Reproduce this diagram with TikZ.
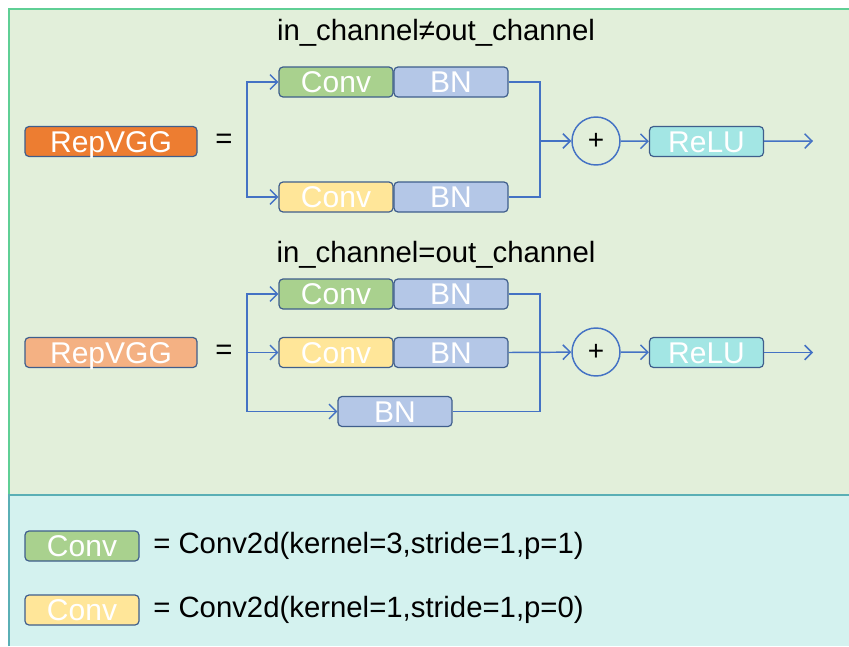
\documentclass[tikz,border=0pt]{standalone}
\usepackage{fontspec}
\setmainfont{Liberation Sans}
\usetikzlibrary{arrows.meta}

\definecolor{bggreen}{HTML}{E2EFDA}
\definecolor{bgcyan}{HTML}{D4F2EF}
\definecolor{framec}{HTML}{5FCF95}
\definecolor{sepc}{HTML}{5AAFB5}
\definecolor{linec}{HTML}{4472C4}
\definecolor{borderc}{HTML}{3F5E8C}
\definecolor{orangec}{HTML}{ED7D31}
\definecolor{lorangec}{HTML}{F4B183}
\definecolor{convg}{HTML}{A9D18E}
\definecolor{convy}{HTML}{FFE699}
\definecolor{bnc}{HTML}{B4C7E7}
\definecolor{reluc}{HTML}{A3E6E4}

\tikzstyle{arrow} = [draw=linec,line width=1.1pt,->,>={Straight Barb[length=5.5pt,width=11pt]}]
\tikzstyle{wire} = [draw=linec,line width=1.1pt]
\tikzstyle{blk} = [draw=borderc,line width=0.9pt,rounded corners=3pt,minimum width=85.5pt,minimum height=22.5pt,inner sep=0pt,text=white,text height=16pt,text depth=0pt,font=\fontsize{22.5}{22.5}\selectfont]
\tikzstyle{conv3} = [blk,fill=convg]
\tikzstyle{conv1} = [blk,fill=convy]
\tikzstyle{bn} = [blk,fill=bnc]
\tikzstyle{relu} = [blk,fill=reluc]
\tikzstyle{plus} = [circle,draw=linec,line width=1.1pt,minimum size=36pt,inner sep=0pt,font=\fontsize{21}{21}\selectfont]
\tikzstyle{txt} = [inner sep=0pt,font=\fontsize{22}{22}\selectfont]

\begin{document}
\begin{tikzpicture}[x=0.75pt,y=-0.75pt]

\useasboundingbox (0,0) rectangle (849,646);

% Background
\fill [bggreen] (9,9) rectangle (849,495);
\fill [bgcyan] (9,495) rectangle (849,646);
\draw [framec,line width=1.5pt] (849,9) -- (9,9) -- (9,495);
\draw [sepc,line width=1.5pt] (9,646) -- (9,495) -- (849,495);

% in_channel != out_channel
\node [txt] (title1) at (436,33) {in\_channel≠out\_channel};
\node [blk,fill=orangec,minimum width=129pt] (rep1) at (111,141.5) {RepVGG};
\node [txt] (eq1) at (224,141) {=};
\node [conv3] (c1a) at (336,82) {Conv};
\node [bn] (b1a) at (451,82) {BN};
\node [conv1] (c1b) at (336,197) {Conv};
\node [bn] (b1b) at (451,197) {BN};
\node [plus] (plus1) at (596,141) {+};
\node [relu] (relu1) at (706.5,141.5) {ReLU};
\coordinate (s1) at (247,141);
\coordinate (j1) at (540,141);
\coordinate (out1) at (813,141);

\draw [arrow] (s1) |- (c1a.west);
\draw [arrow] (s1) |- (c1b.west);
\draw [wire] (b1a.east) -| (j1);
\draw [wire] (b1b.east) -| (j1);
\draw [arrow] (j1) -- (plus1);
\draw [arrow] (plus1) -- (relu1);
\draw [arrow] (relu1) -- (out1);

% in_channel = out_channel
\node [txt] (title2) at (436,255) {in\_channel=out\_channel};
\node [blk,fill=lorangec,minimum width=129pt] (rep2) at (111,352.5) {RepVGG};
\node [txt] (eq2) at (224,352) {=};
\node [conv3] (c2a) at (336,294) {Conv};
\node [bn] (b2a) at (451,294) {BN};
\node [conv1] (c2b) at (336,352.5) {Conv};
\node [bn] (b2b) at (451,352.5) {BN};
\node [bn] (b2c) at (395,411.5) {BN};
\node [plus] (plus2) at (596,352) {+};
\node [relu] (relu2) at (706.5,352.5) {ReLU};
\coordinate (s2) at (247,352.5);
\coordinate (j2) at (540,352.5);
\coordinate (out2) at (813,352.5);

\draw [arrow] (s2) |- (c2a.west);
\draw [arrow] (s2) -- (c2b.west);
\draw [arrow] (s2) |- (b2c.west);
\draw [wire] (b2a.east) -| (j2);
\draw [wire] (b2c.east) -| (j2);
\draw [arrow] (b2b.east) -- (plus2);
\draw [arrow] (plus2) -- (relu2);
\draw [arrow] (relu2) -- (out2);

% Legend
\node [conv3] (lg1) at (82,546) {Conv};
\node [txt,anchor=west] (lt1) at (153,546) {= Conv2d(kernel=3,stride=1,p=1)};
\node [conv1] (lg2) at (82,610) {Conv};
\node [txt,anchor=west] (lt2) at (153,610) {= Conv2d(kernel=1,stride=1,p=0)};

\end{tikzpicture}
\end{document}
